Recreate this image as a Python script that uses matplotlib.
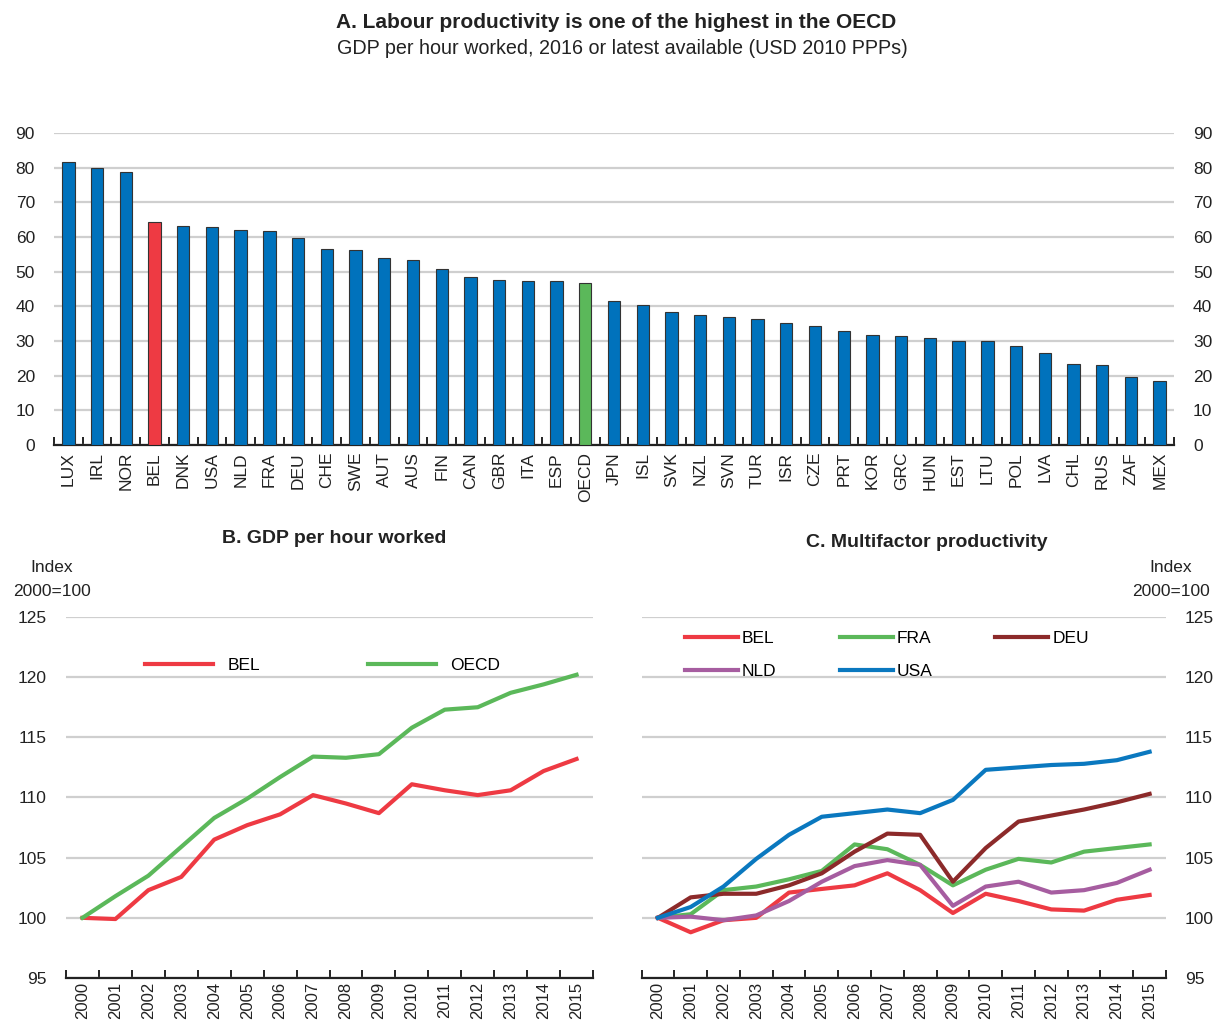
import matplotlib
matplotlib.use("Agg")
import matplotlib.pyplot as plt
import numpy as np

plt.rcParams['font.family'] = ['Liberation Sans', 'DejaVu Sans']

# ---- Panel A data ----
countries = ["LUX", "IRL", "NOR", "BEL", "DNK", "USA", "NLD", "FRA", "DEU", "CHE",
             "SWE", "AUT", "AUS", "FIN", "CAN", "GBR", "ITA", "ESP", "OECD", "JPN",
             "ISL", "SVK", "NZL", "SVN", "TUR", "ISR", "CZE", "PRT", "KOR", "GRC",
             "HUN", "EST", "LTU", "POL", "LVA", "CHL", "RUS", "ZAF", "MEX"]
gdp_per_hour = [81.5, 79.8, 78.7, 64.4, 63.2, 63.0, 61.9, 61.6, 59.7, 56.5,
                56.3, 53.9, 53.4, 50.9, 48.6, 47.5, 47.4, 47.3, 46.7, 41.4,
                40.5, 38.4, 37.4, 36.9, 36.4, 35.2, 34.4, 32.8, 31.8, 31.3,
                30.9, 30.0, 29.9, 28.5, 26.5, 23.5, 23.2, 19.7, 18.5]

# ---- Panel B data ----
years = [str(y) for y in range(2000, 2016)]
b_bel = [100.0, 99.9, 102.3, 103.4, 106.5, 107.7, 108.6, 110.2, 109.5, 108.7,
         111.1, 110.6, 110.2, 110.6, 112.2, 113.2]
b_oecd = [100.0, 101.8, 103.5, 105.9, 108.3, 109.9, 111.7, 113.4, 113.3, 113.6,
          115.8, 117.3, 117.5, 118.7, 119.4, 120.2]

# ---- Panel C data ----
c_bel = [100.0, 98.8, 99.8, 100.0, 102.1, 102.4, 102.7, 103.7, 102.3, 100.4,
         102.0, 101.4, 100.7, 100.6, 101.5, 101.9]
c_fra = [100.0, 100.3, 102.3, 102.6, 103.2, 103.9, 106.1, 105.7, 104.4, 102.7,
         104.0, 104.9, 104.6, 105.5, 105.8, 106.1]
c_deu = [100.0, 101.7, 102.0, 102.0, 102.7, 103.7, 105.5, 107.0, 106.9, 103.0,
         105.8, 108.0, 108.5, 109.0, 109.6, 110.3]
c_nld = [100.0, 100.1, 99.8, 100.2, 101.4, 103.0, 104.3, 104.8, 104.4, 101.0,
         102.6, 103.0, 102.1, 102.3, 102.9, 104.0]
c_usa = [100.0, 100.9, 102.6, 104.9, 106.9, 108.4, 108.7, 109.0, 108.7, 109.8,
         112.3, 112.5, 112.7, 112.8, 113.1, 113.8]

BLUE = '#0072BC'
RED = '#EE3A43'
GREEN = '#5BB85A'
DEU_C = '#8C2A2A'
NLD_C = '#A65DA0'
USA_C = '#0A78BF'
GRID = '#CFCFCF'
TXT = '#222222'
FS = 12.5
PAD = 13.7

W, H = 1221, 1022
fig = plt.figure(figsize=(W / 100, H / 100), dpi=100)

def fx(px):
    return px / W

def fy(py):
    return 1 - py / H

# ---------------- Panel A ----------------
axA = fig.add_axes([fx(54), fy(445), fx(1174) - fx(54), fy(133) - fy(445)])
x = np.arange(len(countries))
colors = [RED if c == 'BEL' else GREEN if c == 'OECD' else BLUE for c in countries]
axA.bar(x, gdp_per_hour, width=0.43, color=colors, edgecolor='#333333', linewidth=0.8, zorder=3)
axA.set_xlim(-0.5, len(countries) - 0.5)
axA.set_ylim(0, 90)
axA.set_yticks(np.arange(0, 91, 10))
axA.yaxis.grid(True, color=GRID, linewidth=1.6, zorder=0)
axA.set_axisbelow(True)
for s in ['left', 'right', 'top']:
    axA.spines[s].set_visible(False)
axA.spines['bottom'].set_color('#222222')
axA.spines['bottom'].set_linewidth(1.6)
axA.set_xticks(x)
axA.set_xticklabels(countries, rotation=90, fontsize=FS, color=TXT)
axA.set_xticks(np.arange(-0.5, len(countries), 1), minor=True)
axA.tick_params(axis='x', which='major', length=0, pad=5)
axA.tick_params(axis='x', which='minor', direction='in', length=6, width=1.4, color='#222222')
axA.tick_params(axis='y', length=0, labelleft=True, labelright=True, labelsize=FS,
                labelcolor=TXT, pad=PAD)

fig.text(0.505, fy(22), "A. Labour productivity is one of the highest in the OECD",
         ha='center', va='center', fontsize=15, fontweight='bold', color=TXT)
fig.text(0.51, fy(48), "GDP per hour worked, 2016 or latest available (USD 2010 PPPs)",
         ha='center', va='center', fontsize=14.2, color=TXT)

# ---------------- Panel B and C common ----------------
def style_line_axes(ax, side):
    ax.set_xlim(-0.5, len(years) - 0.5)
    ax.set_ylim(95, 125)
    ax.set_yticks(np.arange(95, 126, 5))
    ax.yaxis.grid(True, color=GRID, linewidth=1.6, zorder=0)
    ax.set_axisbelow(True)
    for s in ['left', 'right', 'top']:
        ax.spines[s].set_visible(False)
    ax.spines['bottom'].set_color('#222222')
    ax.spines['bottom'].set_linewidth(1.6)
    xi = np.arange(len(years))
    ax.set_xticks(xi)
    ax.set_xticklabels(years, rotation=90, fontsize=12, color=TXT)
    ax.set_xticks(np.arange(-0.5, len(years), 1), minor=True)
    ax.tick_params(axis='x', which='major', length=0, pad=3)
    ax.tick_params(axis='x', which='minor', direction='in', length=6, width=1.4, color='#222222')
    if side == 'left':
        ax.tick_params(axis='y', length=0, labelleft=True, labelright=False, labelsize=FS,
                       labelcolor=TXT, pad=PAD)
    else:
        ax.tick_params(axis='y', length=0, labelleft=False, labelright=True, labelsize=FS,
                       labelcolor=TXT, pad=PAD)

# ---------------- Panel B ----------------
axB = fig.add_axes([fx(66), fy(978), fx(593) - fx(66), fy(617) - fy(978)])
style_line_axes(axB, 'left')
xi = np.arange(len(years))
axB.plot(xi, b_bel, color=RED, lw=3, label='BEL', zorder=3)
axB.plot(xi, b_oecd, color=GREEN, lw=3, label='OECD', zorder=3)
axB.legend(loc='center left', bbox_to_anchor=((145 - 66) / 527, (978 - 665) / 361),
           ncol=2, frameon=False, fontsize=FS, handlelength=3.92, handletextpad=0.86,
           columnspacing=6.16, borderpad=0, borderaxespad=0)
fig.text(fx(334), fy(538), "B. GDP per hour worked", ha='center', va='center',
         fontsize=14, fontweight='bold', color=TXT)
fig.text(fx(52), fy(567), "Index", ha='center', va='center', fontsize=FS, color=TXT)
fig.text(fx(52), fy(592), "2000=100", ha='center', va='center', fontsize=FS, color=TXT)

# ---------------- Panel C ----------------
axC = fig.add_axes([fx(641.5), fy(978), fx(1166) - fx(641.5), fy(617) - fy(978)])
style_line_axes(axC, 'right')
l_bel, = axC.plot(xi, c_bel, color=RED, lw=3, label='BEL', zorder=3)
l_fra, = axC.plot(xi, c_fra, color=GREEN, lw=3, label='FRA', zorder=3)
l_deu, = axC.plot(xi, c_deu, color=DEU_C, lw=3, label='DEU', zorder=3)
l_nld, = axC.plot(xi, c_nld, color=NLD_C, lw=3, label='NLD', zorder=3)
l_usa, = axC.plot(xi, c_usa, color=USA_C, lw=3, label='USA', zorder=4)
axC.legend([l_bel, l_nld, l_fra, l_usa, l_deu], ['BEL', 'NLD', 'FRA', 'USA', 'DEU'],
           loc='center left', bbox_to_anchor=((685 - 641.5) / 524.5, (978 - 655) / 361),
           ncol=3, frameon=False, fontsize=FS, handlelength=3.05, handletextpad=0.23,
           columnspacing=3.63, labelspacing=1.06, borderpad=0, borderaxespad=0)
fig.text(fx(927), fy(542), "C. Multifactor productivity", ha='center', va='center',
         fontsize=14, fontweight='bold', color=TXT)
fig.text(fx(1171), fy(567), "Index", ha='center', va='center', fontsize=FS, color=TXT)
fig.text(fx(1171), fy(592), "2000=100", ha='center', va='center', fontsize=FS, color=TXT)

fig.savefig("out.png", dpi=100)
